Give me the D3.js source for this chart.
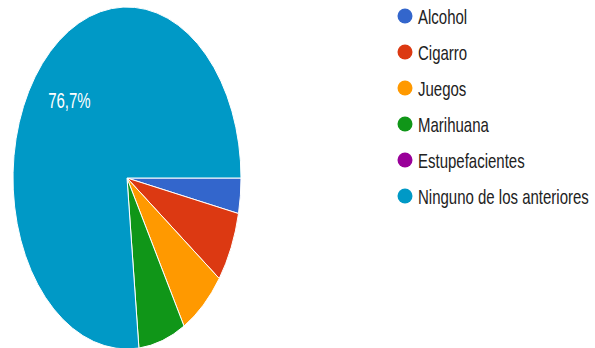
<!DOCTYPE html>
<html lang="es">
<head>
    <meta charset="UTF-8">
    <title>Pie</title>
    <script src="https://d3js.org/d3.v7.min.js"></script>
    <style>
        body { margin: 0; background: white; }
        svg { display: block; }
        text { font-family: "Liberation Sans", Arial, sans-serif; }
    </style>
</head>
<body>
<svg id="canvas" width="595" height="348"></svg>
<script>
    // answers (counts, 30 replies)
    let categories = ["Alcohol", "Cigarro", "Juegos", "Marihuana", "Estupefacientes", "Ninguno de los anteriores"];
    let counts = [1, 2, 2, 2, 0, 23];
    let colors = ["#3366cc", "#dc3912", "#ff9900", "#109618", "#990099", "#0099c6"];

    let svg = d3.select('svg');
    let total = d3.sum(counts);
    let R = 114;
    // picture is stretched vertically
    let stretch = 1.5;

    let pie = d3.pie()
        .sort(null)
        .value(function (d) { return d; })
        .startAngle(Math.PI / 2)
        .endAngle(Math.PI / 2 + 2 * Math.PI);
    let arcs = pie(counts);
    let arc = d3.arc().innerRadius(0).outerRadius(R);
    let labelArc = d3.arc().innerRadius(R * 0.68).outerRadius(R * 0.68);

    let color = d3.scaleOrdinal().domain(d3.range(categories.length)).range(colors);
    let fmt = d3.formatLocale({decimal: ",", thousands: ".", grouping: [3], currency: ["", "€"]}).format(".1%");

    let pieG = svg.append('g')
        .attr("transform", "translate(127,178) scale(1," + stretch + ")");

    pieG.selectAll('path')
        .data(arcs.filter(function (d) { return d.value > 0; }))
        .enter()
        .append('path')
        .attr("d", arc)
        .attr("fill", function (d) { return color(d.index); })
        .attr("stroke", "white")
        .attr("stroke-width", 1)
        .attr("vector-effect", "non-scaling-stroke");

    // only big slices get a label
    pieG.selectAll('g.lbl')
        .data(arcs.filter(function (d) { return d.value / total > 0.1; }))
        .enter()
        .append('g')
        .attr("class", "lbl")
        .attr("transform", function (d) {
            let c = labelArc.centroid(d);
            return "translate(" + c[0] + "," + c[1] + ") scale(1," + (1 / stretch) + ") scale(1,1.5)";
        })
        .append('text')
        .attr("text-anchor", "middle")
        .attr("dy", "0.36em")
        .attr("fill", "white")
        .attr("font-size", 15)
        .text(function (d) { return fmt(d.value / total); });

    // legend
    let y = d3.scalePoint().domain(categories).range([16, 196]);
    let legend = svg.append('g');
    let rows = legend.selectAll('g')
        .data(categories)
        .enter()
        .append('g')
        .attr("transform", function (d) { return "translate(405," + y(d) + ")"; });

    rows.append('circle')
        .attr("r", 7.5)
        .attr("fill", function (d, i) { return color(i); });

    rows.append('g')
        .attr("transform", "translate(13,0) scale(1,1.4)")
        .append('text')
        .attr("dy", "0.36em")
        .attr("font-size", 15)
        .attr("fill", "#222")
        .text(function (d) { return d; });
</script>
</body>
</html>
